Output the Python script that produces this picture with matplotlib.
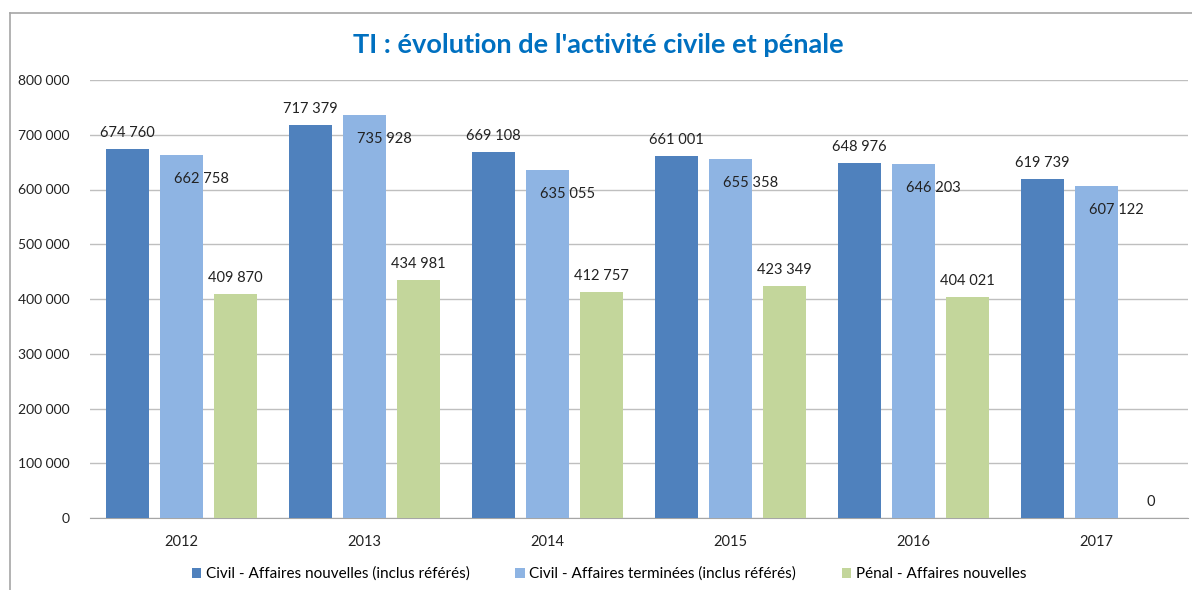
import numpy as np
import matplotlib.pyplot as plt
from matplotlib.lines import Line2D

# Données du graphique
annees = ["2012", "2013", "2014", "2015", "2016", "2017"]
civil_nouvelles = [674760, 717379, 669108, 661001, 648976, 619739]
civil_terminees = [662758, 735928, 635055, 655358, 646203, 607122]
penal_nouvelles = [409870, 434981, 412757, 423349, 404021, 0]

noms = ["Civil - Affaires nouvelles (inclus référés)",
        "Civil - Affaires terminées (inclus référés)",
        "Pénal - Affaires nouvelles"]
couleurs = ["#4F81BD", "#8EB4E3", "#C3D69B"]

plt.rcParams['font.family'] = ['Lato', 'DejaVu Sans']

fig = plt.figure(figsize=(11.92, 5.90), dpi=100)
ax = fig.add_axes([90/1192, 1 - 518/590, 1098/1192, 438/590])

x = np.arange(len(annees))
largeur = 0.235
pas = 0.295

series = [civil_nouvelles, civil_terminees, penal_nouvelles]
for k, valeurs in enumerate(series):
    pos = x + (k - 1) * pas
    ax.bar(pos, valeurs, width=largeur, color=couleurs[k], label=noms[k], zorder=3)
    for xi, v in zip(pos, valeurs):
        txt = f"{v:,}".replace(",", " ")
        if k == 1:
            dx, dy = 20, -24
        else:
            dx, dy = 0, 16
        ax.annotate(txt, (xi, v), xytext=(dx, dy), textcoords="offset pixels",
                    ha="center", va="center", fontsize=10.5, color="#222222")

ax.set_xlim(-0.5, len(annees) - 0.5)
ax.set_ylim(0, 800000)
ax.set_yticks(np.arange(0, 800001, 100000))
ax.set_yticklabels([f"{v:,}".replace(",", " ") for v in range(0, 800001, 100000)])
ax.set_xticks(x)
ax.set_xticklabels(annees)
ax.tick_params(axis="both", length=0, labelsize=10.5, colors="#222222")
ax.tick_params(axis="y", labelsize=10, pad=15)
ax.tick_params(axis="x", pad=12)
ax.grid(axis="y", color="#BFBFBF", linewidth=1, zorder=0)
for s in ["top", "right", "left"]:
    ax.spines[s].set_visible(False)
ax.spines["bottom"].set_color("#A6A6A6")

fig.text(0.502, 1 - 45/590, "TI : évolution de l'activité civile et pénale",
         ha="center", va="center", fontsize=19.5, fontweight="bold", color="#0070C0")

fig.legend(loc="center", bbox_to_anchor=(0.511, 1 - 574/590), ncol=3, frameon=False,
           fontsize=11, handlelength=0.6, handleheight=0.6, columnspacing=3.0,
           handletextpad=0.3)

# cadre du graphique
fig.add_artist(Line2D([10/1192, 10/1192], [0, 1 - 13/590], color="#A6A6A6", lw=1.2,
                      transform=fig.transFigure))
fig.add_artist(Line2D([10/1192, 1], [1 - 13/590, 1 - 13/590], color="#A6A6A6", lw=1.2,
                      transform=fig.transFigure))

fig.savefig("out.png", dpi=100)
